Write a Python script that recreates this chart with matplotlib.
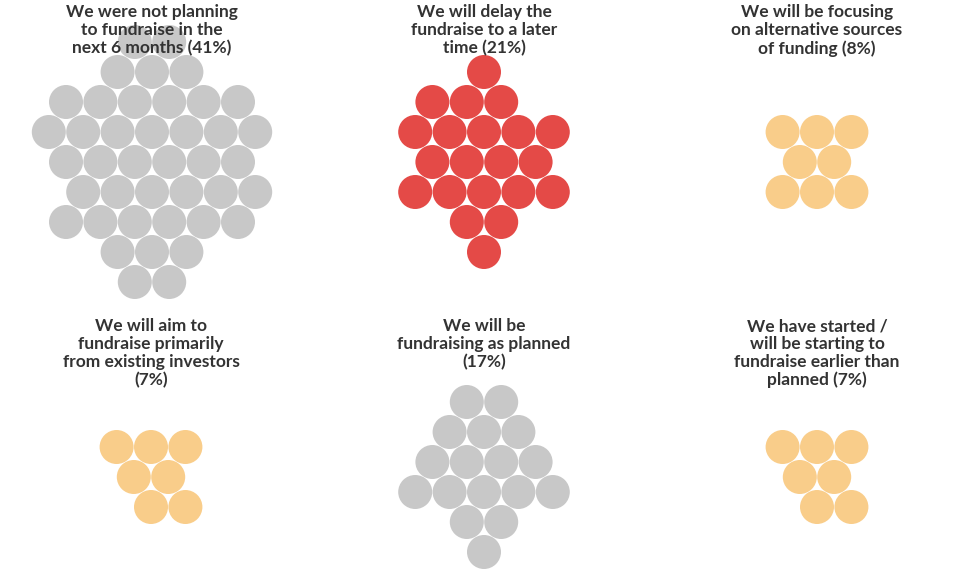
import matplotlib.pyplot as plt
from matplotlib.patches import Circle

# panel titles
titles = [
    "We were not planning\nto fundraise in the\nnext 6 months (41%)",
    "We will delay the\nfundraise to a later\ntime (21%)",
    "We will be focusing\non alternative sources\nof funding (8%)",
    "We will aim to\nfundraise primarily\nfrom existing investors\n(7%)",
    "We will be\nfundraising as planned\n(17%)",
    "We have started /\nwill be starting to\nfundraise earlier than\nplanned (7%)",
]
colors = ["#c8c8c8", "#e44a47", "#f9cd8a", "#f9cd8a", "#c8c8c8", "#f9cd8a"]

# circle rows, as half-column offsets from the panel centre
rows_1 = [[-1, 1], [-2, 0, 2], [-5, -3, -1, 1, 3, 5], [-6, -4, -2, 0, 2, 4, 6],
          [-5, -3, -1, 1, 3, 5], [-4, -2, 0, 2, 4, 6], [-5, -3, -1, 1, 3, 5],
          [-2, 0, 2], [-1, 1]]
rows_2 = [[0], [-3, -1, 1], [-4, -2, 0, 2, 4], [-3, -1, 1, 3],
          [-4, -2, 0, 2, 4], [-1, 1], [0]]
rows_3 = [[-2, 0, 2], [-1, 1], [-2, 0, 2]]
rows_4 = [[-2, 0, 2], [-1, 1], [0, 2]]
rows_5 = [[-1, 1], [-2, 0, 2], [-3, -1, 1, 3], [-4, -2, 0, 2, 4], [-1, 1], [0]]
rows_6 = [[-2, 0, 2], [-1, 1], [0, 2]]
all_rows = [rows_1, rows_2, rows_3, rows_4, rows_5, rows_6]

# layout (pixels)
centres_x = [152, 484, 817, 151, 484, 817]
first_row_y = [42, 72, 132, 447, 402, 447]
title_y = [4, 4, 4, 318, 318, 318]
half_step = 17.2
row_step = 30
radius = 17

fig = plt.figure(figsize=(9.58, 5.72), dpi=100)
ax = fig.add_axes([0, 0, 1, 1])
ax.set_xlim(0, 958)
ax.set_ylim(572, 0)
ax.set_aspect("equal")
ax.axis("off")

for i, rows in enumerate(all_rows):
    for r, offs in enumerate(rows):
        for o in offs:
            ax.add_patch(Circle((centres_x[i] + o * half_step, first_row_y[i] + r * row_step),
                                radius, color=colors[i], lw=0, zorder=1))
    ax.text(centres_x[i], title_y[i], titles[i], ha="center", va="top",
            fontsize=12.5, fontweight="bold", color="#333333",
            family=["Lato", "DejaVu Sans"], linespacing=1.15, zorder=3)

fig.savefig("out.png", dpi=100)
